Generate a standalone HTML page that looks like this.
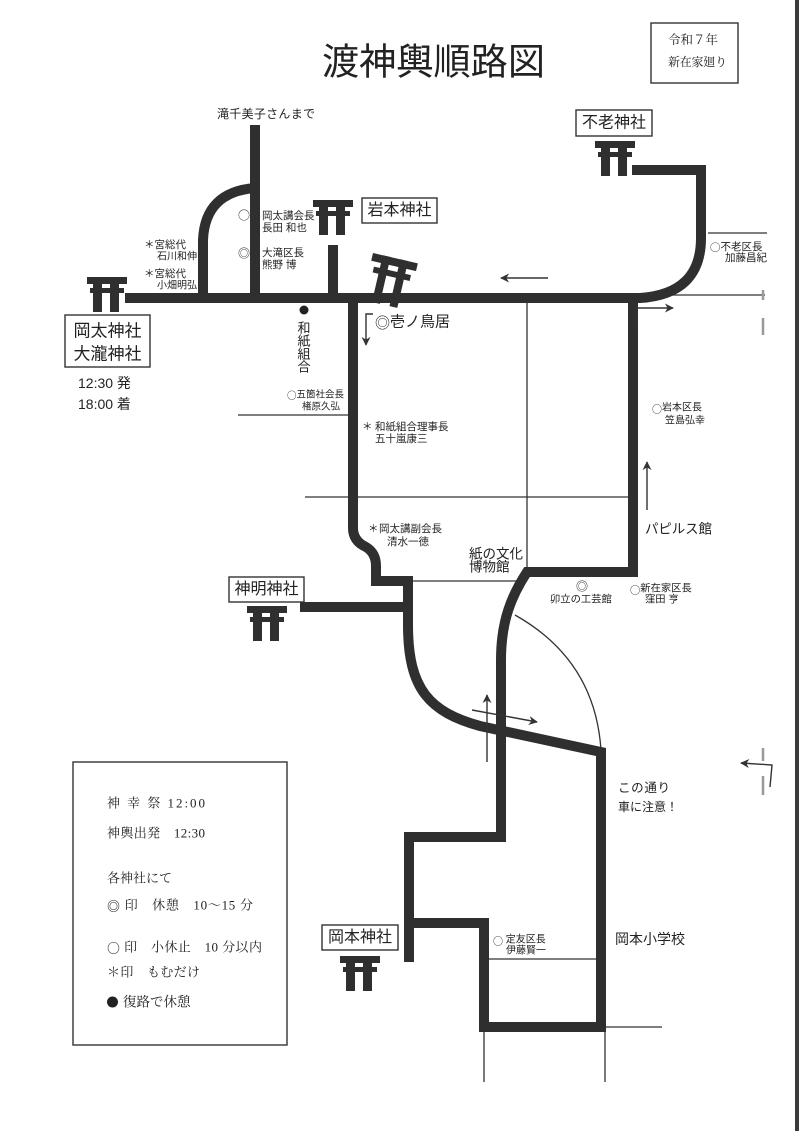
<!DOCTYPE html>
<html><head><meta charset="utf-8">
<style>
html,body{margin:0;padding:0;background:#fff;}
svg{display:block;}
text{font-family:"Liberation Sans","Noto Sans CJK JP",sans-serif;fill:#222;dominant-baseline:central;}
.serif{font-family:"Liberation Serif","Noto Serif CJK JP",serif;}
.cjk{font-family:"Noto Sans CJK JP",sans-serif;}
.cjks{font-family:"Noto Serif CJK JP",serif;}
.road{fill:none;stroke:#2f2f2f;stroke-width:10;stroke-linejoin:miter;stroke-linecap:butt;}
.thin{fill:none;stroke:#333;stroke-width:1.3;}
.arr{fill:none;stroke:#333;stroke-width:1.4;}
.box{fill:#fff;stroke:#333;stroke-width:1.4;}
</style></head><body>
<svg width="800" height="1131" viewBox="0 0 800 1131" xmlns="http://www.w3.org/2000/svg">
<defs>
<marker id="ah" viewBox="0 0 10 10" refX="9" refY="5" markerWidth="9" markerHeight="9" markerUnits="userSpaceOnUse" orient="auto"><path d="M0,0 L10,5 L0,10 L3,5 z" fill="#333"/></marker>
<g id="torii">
<rect x="0" y="0" width="40" height="7"/>
<rect x="3" y="11" width="34" height="5"/>
<rect x="6" y="0" width="9" height="35"/>
<rect x="23" y="0" width="9" height="35"/>
</g>
</defs>

<!-- right edge bar -->
<rect x="795" y="0" width="4" height="1131" fill="#3a3a3a"/>

<!-- title -->
<text x="322" y="62" font-size="37" textLength="223" lengthAdjust="spacingAndGlyphs">渡神輿順路図</text>

<!-- top right box -->
<rect class="box" x="651" y="23" width="87" height="60"/>
<text class="serif" x="668" y="40" font-size="12.5">令和７年</text>
<text class="serif" x="668" y="62" font-size="12" textLength="59">新在家廻り</text>

<!-- thin lines -->
<path class="thin" d="M527 297 V572"/>
<path class="thin" d="M305 497 H632"/>
<path class="thin" d="M238 415 H350"/>
<path class="thin" d="M408 581 H518"/>
<path class="thin" d="M515 615 Q595 660 601 750"/>
<path class="thin" d="M708 233 H767"/>
<path class="thin" d="M657 295 H765"/>
<path class="thin" d="M488 959 H597"/>
<path class="thin" d="M602 1027 H662"/>
<path class="thin" d="M484 1027 V1082"/>
<path class="thin" d="M605 1027 V1082"/>

<!-- roads -->
<path class="road" d="M125 298 H640 Q701 294 701 238 V170 H632"/>
<path class="road" d="M255 125 V298"/>
<path class="road" d="M203 298 V240 Q205 192 255 188"/>
<path class="road" d="M333 245 V298"/>
<path class="road" d="M353 298 V528 Q353 541 366 547 Q376 553 376 566 V581 H408 V625 C408 690 430 712 480 726 L601 752 V1027 H484 V923 H409"/>
<path class="road" d="M409 962 V837 H501 V660 C501 620 512 595 527 572 H633 V297"/>
<path class="road" d="M300 607 H408"/>

<!-- torii -->
<use href="#torii" x="87" y="277" fill="#2f2f2f"/>
<use href="#torii" x="313" y="200" fill="#2f2f2f"/>
<use href="#torii" x="595" y="141" fill="#2f2f2f"/>
<use href="#torii" x="247" y="606" fill="#2f2f2f"/>
<use href="#torii" x="340" y="956" fill="#2f2f2f"/>
<g transform="translate(373,253) rotate(13)" fill="#2f2f2f">
<rect x="0" y="0" width="46" height="8"/>
<rect x="4" y="13" width="38" height="6"/>
<rect x="10" y="0" width="8" height="48"/>
<rect x="28" y="0" width="8" height="48"/>
</g>

<!-- shrine boxes -->
<rect class="box" x="65" y="315" width="85" height="52"/>
<text x="107.5" y="331" font-size="17" text-anchor="middle">岡太神社</text>
<text x="107.5" y="354" font-size="17" text-anchor="middle">大瀧神社</text>
<rect class="box" x="362" y="198" width="75" height="25"/>
<text x="399.5" y="210.5" font-size="16" text-anchor="middle">岩本神社</text>
<rect class="box" x="576" y="110" width="76" height="26"/>
<text x="614" y="123" font-size="16" text-anchor="middle">不老神社</text>
<rect class="box" x="229" y="577" width="75" height="25"/>
<text x="266.5" y="589.5" font-size="16" text-anchor="middle">神明神社</text>
<rect class="box" x="322" y="925" width="76" height="25"/>
<text x="360" y="937.5" font-size="16" text-anchor="middle">岡本神社</text>

<text x="78" y="383" font-size="14">12:30 発</text>
<text x="78" y="404" font-size="14">18:00 着</text>

<!-- small labels -->
<text x="217" y="114" font-size="12" textLength="98">滝千美子さんまで</text>
<text class="cjk" x="238" y="215" font-size="12">○</text>
<text x="262" y="216" font-size="10.5">岡太講会長</text>
<text x="262" y="228" font-size="10.5">長田 和也</text>
<text class="cjk" x="238" y="253" font-size="12">◎</text>
<text x="262" y="253" font-size="10.5">大滝区長</text>
<text x="262" y="265" font-size="10.5">熊野 博</text>
<text x="144" y="245" font-size="10.5">＊宮総代</text>
<text x="157" y="257" font-size="10">石川和伸</text>
<text x="144" y="274" font-size="10.5">＊宮総代</text>
<text x="157" y="286" font-size="10">小畑明弘</text>

<circle cx="304" cy="310" r="4.5" fill="#222"/>
<text x="304" y="328" font-size="13" text-anchor="middle">和</text>
<text x="304" y="341" font-size="13" text-anchor="middle">紙</text>
<text x="304" y="354" font-size="13" text-anchor="middle">組</text>
<text x="304" y="367" font-size="13" text-anchor="middle">合</text>

<text x="287" y="395" font-size="9.5"><tspan class="cjk">○</tspan>五箇社会長</text>
<text x="302" y="407" font-size="9.5">楮原久弘</text>

<text x="375" y="322" font-size="15"><tspan class="cjk">◎</tspan>壱ノ鳥居</text>
<path class="arr" d="M373 314 H366 V345" marker-end="url(#ah)"/>

<text x="362" y="427" font-size="10.5">＊</text>
<text x="375" y="427" font-size="10.5">和紙組合理事長</text>
<text x="375" y="439" font-size="10.5">五十嵐康三</text>

<text x="368" y="529" font-size="10.5">＊</text>
<text x="379" y="529" font-size="10.5">岡太講副会長</text>
<text x="387" y="542" font-size="10.5">清水一徳</text>

<text x="469" y="554" font-size="13.5">紙の文化</text>
<text x="469" y="567" font-size="13.5">博物館</text>

<text x="652" y="408" font-size="10"><tspan class="cjk">○</tspan>岩本区長</text>
<text x="665" y="421" font-size="10">笠島弘幸</text>

<text x="645" y="529" font-size="13.4">パピルス館</text>

<text class="cjk" x="582" y="586" font-size="12" text-anchor="middle">◎</text>
<text x="550" y="600" font-size="10.3">卯立の工芸館</text>
<text x="630" y="589" font-size="10.3"><tspan class="cjk">○</tspan>新在家区長</text>
<text x="645" y="600" font-size="10.3">窪田 亨</text>

<text x="618" y="788" font-size="12.5" textLength="52">この通り</text>
<text x="618" y="807" font-size="12">車に注意！</text>

<text x="493" y="940" font-size="10"><tspan class="cjk">○</tspan> 定友区長</text>
<text x="506" y="951" font-size="10">伊藤賢一</text>
<text x="615" y="939" font-size="14">岡本小学校</text>

<text x="710" y="247" font-size="10.5"><tspan class="cjk">○</tspan>不老区長</text>
<text x="725" y="258" font-size="10.5">加藤昌紀</text>

<!-- arrows -->
<path class="arr" d="M548 278 H501" marker-end="url(#ah)"/>
<path class="arr" d="M637 332 V308 H673" marker-end="url(#ah)"/>
<path class="arr" d="M647 510 V462" marker-end="url(#ah)"/>
<path class="arr" d="M487 762 V695" marker-end="url(#ah)"/>
<path class="arr" d="M472 710 L537 722" marker-end="url(#ah)"/>
<path class="arr" d="M770 787 L772 765 L741 763" marker-end="url(#ah)"/>
<path d="M763 748 V761 M763 776 V795" stroke="#999" stroke-width="2.5" fill="none"/>
<path d="M763 290 V300 M763 318 V335" stroke="#999" stroke-width="2.5" fill="none"/>

<!-- legend -->
<rect class="box" x="73" y="762" width="214" height="283"/>
<text class="serif" x="107" y="803" font-size="13" textLength="98">神 幸 祭 12:00</text>
<text class="serif" x="107" y="833" font-size="13" textLength="98">神輿出発　12:30</text>
<text class="serif" x="107" y="878" font-size="13">各神社にて</text>
<text class="serif" x="107" y="905" font-size="13" textLength="146"><tspan class="cjks">◎</tspan> 印　休憩　10〜15 分</text>
<text class="serif" x="107" y="947" font-size="13" textLength="155"><tspan class="cjks">○</tspan> 印　小休止　10 分以内</text>
<text class="serif" x="107" y="972" font-size="13" textLength="93">＊印　もむだけ</text>
<circle cx="112.5" cy="1002" r="5.5" fill="#222"/>
<text class="serif" x="123" y="1002" font-size="13.5">復路で休憩</text>
</svg>
</body></html>
